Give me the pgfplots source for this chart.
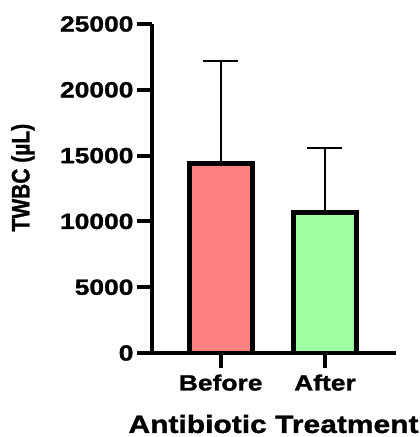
\documentclass[border=0pt]{standalone}
\usepackage{pgfplots}
\pgfplotsset{compat=1.18}
\usepackage{fontspec}
\setmainfont{Liberation Sans}[FakeStretch=1.2, BoldFeatures={FakeBold=1.2}]
\newfontfamily\plainfont{Liberation Sans}[BoldFeatures={FakeBold=1.2}]
\usepackage{graphicx}
\definecolor{pinkbar}{RGB}{255,128,128}
\definecolor{greenbar}{RGB}{160,255,160}
\begin{document}
\begin{tikzpicture}
\path[use as bounding box] (-152pt,-84pt) rectangle (268pt,353pt);
\begin{axis}[
  at={(0pt,0pt)}, anchor=south west,
  scale only axis, width=244pt, height=329pt,
  xmin=-0.659, xmax=1.681, ymin=0, ymax=25000,
  axis lines=left, axis line style={-, line width=4pt},
  ytick={0,5000,10000,15000,20000,25000},
  xtick={0,1}, xticklabels={Before,After},
  minor tick num=0,
  tick align=outside, major tick length=15pt,
  tick style={line width=4pt, black},
  /pgf/number format/assume math mode=true,
  scaled y ticks=false, /pgf/number format/1000 sep={},
  yticklabel style={font=\fontsize{22}{22}\selectfont\bfseries},
  xticklabel style={font=\fontsize{22}{22}\selectfont\bfseries, yshift=-3pt},
  xlabel={Antibiotic Treatment},
  xlabel style={at={(axis description cs:0.498,-0.243)}, anchor=base, font=\fontsize{25}{25}\selectfont\bfseries},
  ylabel={\scalebox{1}[1.2]{\plainfont\bfseries\fontsize{21}{21}\selectfont TWBC (µL)}},
  ylabel style={at={(axis description cs:-0.529,0.533)}, anchor=center},
]
\addplot[ybar, bar width=63pt, bar shift=0pt, fill=pinkbar, draw=black, line width=5pt,
  error bars/.cd, y dir=plus, y explicit, error mark=|,
  error bar style={line width=2pt, black},
  error mark options={line width=2pt, mark size=17.5pt, black}]
  coordinates {(0,14400) +- (0,7800)};
\addplot[ybar, bar width=63pt, bar shift=0pt, fill=greenbar, draw=black, line width=5pt,
  error bars/.cd, y dir=plus, y explicit, error mark=|,
  error bar style={line width=2pt, black},
  error mark options={line width=2pt, mark size=17.5pt, black}]
  coordinates {(1,10700) +- (0,4850)};
\end{axis}
\end{tikzpicture}
\end{document}
